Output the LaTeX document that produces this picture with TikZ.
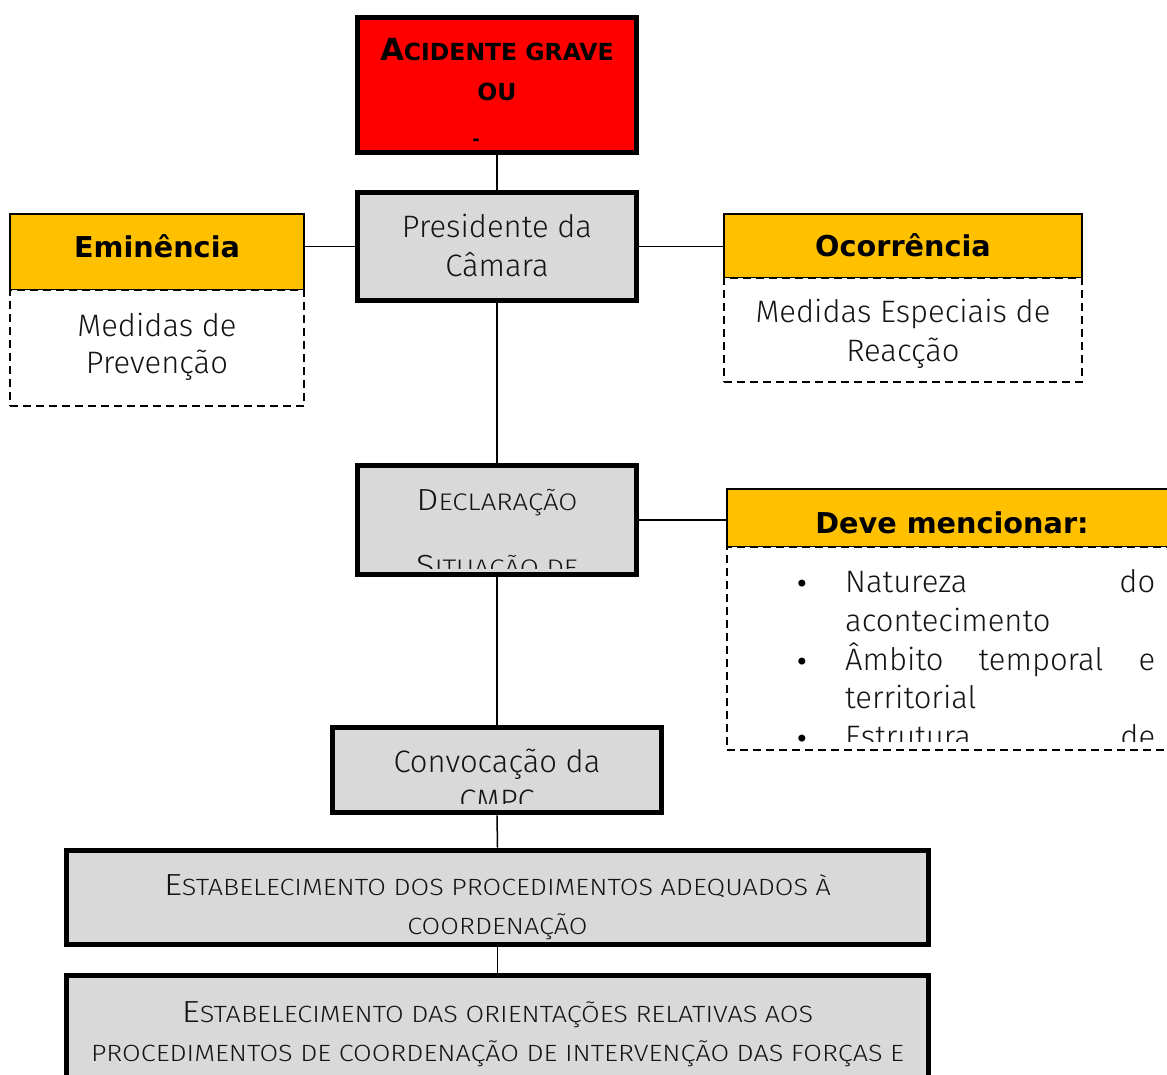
\documentclass[tikz,border=0pt]{standalone}
\usepackage{fontspec}
\usepackage{graphicx}
\setmainfont{DejaVu Sans}
\newfontfamily\lightfont{Fira Sans Light}
\definecolor{alertred}{HTML}{FF0000}
\definecolor{headgold}{HTML}{FFC000}
\definecolor{boxgray}{HTML}{D9D9D9}
% size helper: \fs{size} sets the font size in pt with a matching baseline skip
\newcommand\fs[1]{\fontsize{#1pt}{#1pt}\selectfont}
% small capitals: big initial, smaller upper-case remainder
\newcommand\capsline[4]{{\fs{#1}#3}{\fs{#2}#4}}
% horizontally widened line
\newcommand\wide[2]{\scalebox{#1}[1]{#2}}
\tikzset{
  heavybox/.style={draw=black, line width=5.8pt, fill=boxgray, inner sep=0pt},
  alertbox/.style={heavybox, fill=alertred},
  goldhead/.style={draw=black, line width=1.4pt, fill=headgold, inner sep=0pt},
  dashbox/.style={draw=black, line width=2.2pt, dash pattern=on 8pt off 5pt, fill=white, inner sep=0pt},
  link/.style={draw=black, line width=1.5pt},
  lt/.style={font=\lightfont\fs{31}, text=black!92, inner sep=0pt, anchor=base},
  bh/.style={font=\bfseries\fs{28.7}, inner sep=0pt, anchor=base},
  dot/.style={font=\fs{24}, inner sep=0pt, anchor=base},
}
\begin{document}
\begin{tikzpicture}[x=1pt,y=-1pt]
\clip (0,0) rectangle (1167,1075);
\fill[white] (0,0) rectangle (1167,1075);

% ---- boxes (path on the middle of each border) ----
\node[alertbox, minimum width=279pt, minimum height=135pt] (alarm) at (497,85) {};
\node[heavybox, minimum width=279pt, minimum height=108pt] (mayor) at (497,246.5) {};
\node[heavybox, minimum width=279pt, minimum height=109pt] (decl) at (497,520) {};
\node[heavybox, minimum width=329pt, minimum height=85pt] (conv) at (497,770) {};
\node[heavybox, minimum width=862pt, minimum height=94pt] (proc) at (497.5,897.5) {};
\node[heavybox, minimum width=862pt, minimum height=140pt] (orient) at (497.5,1045.5) {};

\node[goldhead, minimum width=294pt, minimum height=76pt] (emin) at (157,252) {};
\node[dashbox, minimum width=294pt, minimum height=116pt] (prev) at (157,348) {};
\node[goldhead, minimum width=358pt, minimum height=64pt] (ocor) at (903,246) {};
\node[dashbox, minimum width=358pt, minimum height=104pt] (reac) at (903,330) {};
\node[goldhead, minimum width=460pt, minimum height=58pt] (deve) at (957,518) {};
\node[dashbox, minimum width=460pt, minimum height=203pt] (list) at (957,648.5) {};

% ---- connectors ----
\draw[link] (alarm.south) -- (mayor.north);
\draw[link] (emin.east |- mayor.west) -- (mayor.west);
\draw[link] (mayor.east) -- (ocor.west |- mayor.east);
\draw[link] (mayor.south) -- (decl.north);
\draw[link] (decl.east) -- (deve.west |- decl.east);
\draw[link] (decl.south) -- (conv.north);
\draw[link] (conv.south) -- (proc.north);
\draw[link] (proc.south) -- (orient.north);

% ---- texts, each clipped to the inside of its box ----
\begin{scope}
  \clip (357,18) rectangle (637,151);
  \node[bh] (t1) at (497,61) {\capsline{30.5}{23.5}{A}{CIDENTE GRAVE}};
  \node[bh] (t2) at (497,101) {\fs{23.5}OU};
  \node[bh] (t3) at (476,146) {\fs{18}-};
\end{scope}
\begin{scope}
  \clip (357,192) rectangle (637,301);
  \node[lt] (t4) at (497,238) {Presidente da};
  \node[lt] (t5) at (497,277) {Câmara};
\end{scope}
\node[bh] (t6) at (157,258) {Eminência};
\node[lt] (t7) at (157,336) {Medidas de};
\node[lt] (t8) at (157,373) {Prevenção};
\node[bh] (t9) at (903,257) {Ocorrência};
\node[lt] (t10) at (903,323) {Medidas Especiais de};
\node[lt] (t11) at (903,361) {Reacção};
\begin{scope}
  \clip (357,466) rectangle (637,568);
  \node[lt] (t12) at (497,510) {\wide{1.15}{\capsline{30.5}{24}{D}{ECLARAÇÃO}}};
  \node[lt] (t13) at (497,576) {\wide{1.15}{\capsline{30.5}{24}{S}{ITUAÇÃO DE}}};
\end{scope}
\node[bh] (t14) at (952,533) {Deve mencionar:};
\begin{scope}
  \clip (729,549) rectangle (1167,741);
  \foreach \yy in {592,670,747} \node[dot] at (802,\yy) {•};
  \node[lt, anchor=base west] (t15) at (845,592) {\hbox to 310pt{Natureza\hfill do}};
  \node[lt, anchor=base west] (t16) at (845,631) {acontecimento};
  \node[lt, anchor=base west] (t17) at (845,670) {\hbox to 310pt{Âmbito\hfill temporal\hfill e}};
  \node[lt, anchor=base west] (t18) at (845,708) {territorial};
  \node[lt, anchor=base west] (t19) at (845,747) {\hbox to 310pt{Estrutura\hfill de}};
\end{scope}
\begin{scope}
  \clip (332,727) rectangle (662,803);
  \node[lt] (t20) at (497,772) {Convocação da};
  \node[lt] (t21) at (497,811) {CMPC};
\end{scope}
\node[lt] (t22) at (497.5,895) {\wide{1.15}{\capsline{30.5}{23.5}{E}{STABELECIMENTO DOS PROCEDIMENTOS ADEQUADOS À}}};
\node[lt] (t23) at (497.5,934) {\wide{1.15}{\fs{23.5}COORDENAÇÃO}};
\node[lt] (t24) at (497.5,1022) {\wide{1.15}{\capsline{30.5}{23.5}{E}{STABELECIMENTO DAS ORIENTAÇÕES RELATIVAS AOS}}};
\node[lt] (t25) at (497.5,1061) {\wide{1.15}{\fs{23.5}PROCEDIMENTOS DE COORDENAÇÃO DE INTERVENÇÃO DAS FORÇAS E}};
\end{tikzpicture}
\end{document}
